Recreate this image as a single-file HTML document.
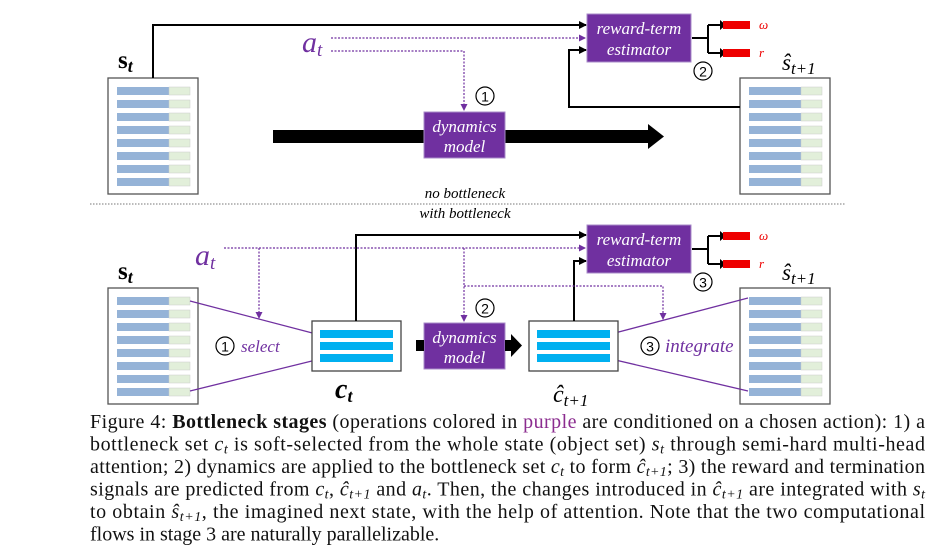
<!DOCTYPE html>
<html><head><meta charset="utf-8"><style>
html,body{margin:0;padding:0;background:#fff;}
svg{display:block;}
.cap{font-family:"Liberation Serif",serif;font-size:20px;fill:#111;}
.it{font-style:italic;}
.bw{font-family:"Liberation Serif",serif;font-style:italic;fill:#fff;font-size:17px;}
</style></head><body>
<svg width="950" height="552" viewBox="0 0 950 552" xmlns="http://www.w3.org/2000/svg">
<defs>
<marker id="ab" markerWidth="8" markerHeight="8" refX="7" refY="4" orient="auto" markerUnits="userSpaceOnUse"><path d="M0,0 L8,4 L0,8 z" fill="#000"/></marker>
<marker id="ap" markerWidth="7" markerHeight="7" refX="6" refY="3.5" orient="auto" markerUnits="userSpaceOnUse"><path d="M0,0 L7,3.5 L0,7 z" fill="#7030a0"/></marker>
<g id="state">
<rect x="0" y="0" width="90" height="116" fill="#fff" stroke="#555" stroke-width="1.3"/>
<g id="row"><rect x="9" y="9" width="52" height="8" fill="#95b3d7"/><rect x="61" y="9" width="21" height="8" fill="#e2efda" stroke="#ccc" stroke-width="0.5"/></g>
<use href="#row" y="13"/><use href="#row" y="26"/><use href="#row" y="39"/><use href="#row" y="52"/><use href="#row" y="65"/><use href="#row" y="78"/><use href="#row" y="91"/>
</g>
<g id="bset">
<rect x="0" y="0" width="89" height="50" fill="#fff" stroke="#444" stroke-width="1.3"/>
<rect x="8" y="9" width="73" height="8" fill="#00b0f0"/><rect x="8" y="21" width="73" height="8" fill="#00b0f0"/><rect x="8" y="33" width="73" height="8" fill="#00b0f0"/>
</g>
<g id="rew">
<rect x="0" y="0" width="104" height="48" fill="#7030a0" stroke="#a98bc9"/>
<text x="52" y="20" text-anchor="middle" class="bw">reward-term</text>
<text x="52" y="41" text-anchor="middle" class="bw">estimator</text>
<path d="M105,24 H121 M121,11 V39 M121,11 H134 M121,39 H134" stroke="#000" stroke-width="2" fill="none"/>
<path d="M133,6 L139,11 L133,16 z M133,34 L139,39 L133,44 z" fill="#000"/>
<rect x="136" y="7" width="27" height="8" fill="#e00"/><rect x="136" y="35" width="27" height="8" fill="#e00"/>
<text x="172" y="15" font-family="Liberation Serif,serif" font-style="italic" font-size="13" fill="#e00">ω</text>
<text x="172" y="43" font-family="Liberation Serif,serif" font-style="italic" font-size="13" fill="#e00">r</text>
</g>
<g id="dyn">
<rect x="0" y="0" width="81" height="46" fill="#7030a0" stroke="#a98bc9"/>
<text x="40.5" y="20" text-anchor="middle" class="bw" font-size="16">dynamics</text>
<text x="40.5" y="40" text-anchor="middle" class="bw" font-size="16">model</text>
</g>
</defs>

<!-- TOP -->
<use href="#state" x="108" y="78"/>
<use href="#state" x="740" y="78"/>
<text x="118" y="68" font-family="Liberation Serif,serif" font-weight="bold" font-size="25">s<tspan font-size="18" font-style="italic" dy="4">t</tspan></text>
<text x="782" y="70" font-family="Liberation Serif,serif" font-style="italic" font-size="23">ŝ<tspan font-size="17" dy="4">t+1</tspan></text>
<path d="M153,78 V25 H586" stroke="#000" stroke-width="2" fill="none" marker-end="url(#ab)"/>
<path d="M740,107 H569 V50 H586" stroke="#000" stroke-width="2" fill="none" marker-end="url(#ab)"/>
<rect x="273" y="130" width="380" height="13" fill="#000"/>
<path d="M648,124 L664,136.5 L648,149 z" fill="#000"/>
<use href="#dyn" x="424" y="112"/>
<text x="302" y="52" font-family="Liberation Serif,serif" font-style="italic" font-size="30" fill="#7030a0">a<tspan font-size="19" dy="4">t</tspan></text>
<path d="M331,38 H585" stroke="#7030a0" stroke-width="1.2" stroke-dasharray="2,1.5" fill="none" marker-end="url(#ap)"/>
<path d="M331,51 H464 V110" stroke="#7030a0" stroke-width="1.2" stroke-dasharray="2,1.5" fill="none" marker-end="url(#ap)"/>
<use href="#rew" x="587" y="14"/>
<circle cx="485" cy="96" r="9" fill="none" stroke="#000" stroke-width="1.2"/><text x="485" y="101.5" text-anchor="middle" font-family="Liberation Sans,sans-serif" font-size="14">1</text>
<circle cx="703" cy="71" r="9" fill="none" stroke="#000" stroke-width="1.2"/><text x="703" y="76.5" text-anchor="middle" font-family="Liberation Sans,sans-serif" font-size="14">2</text>

<text x="465" y="198" text-anchor="middle" font-family="Liberation Serif,serif" font-style="italic" font-size="15">no bottleneck</text>
<line x1="90" y1="204" x2="845" y2="204" stroke="#777" stroke-width="1" stroke-dasharray="1.5,1.5"/>
<text x="465" y="218" text-anchor="middle" font-family="Liberation Serif,serif" font-style="italic" font-size="15">with bottleneck</text>

<!-- BOTTOM -->
<use href="#state" x="108" y="288"/>
<use href="#state" x="740" y="288"/>
<text x="118" y="279" font-family="Liberation Serif,serif" font-weight="bold" font-size="25">s<tspan font-size="18" font-style="italic" dy="4">t</tspan></text>
<text x="782" y="280" font-family="Liberation Serif,serif" font-style="italic" font-size="23">ŝ<tspan font-size="17" dy="4">t+1</tspan></text>
<path d="M190,301 L320,335 M190,391 L320,359 M611,334 L748,298 M611,359 L748,391" stroke="#7030a0" stroke-width="1.3" fill="none"/>
<use href="#bset" x="312" y="321"/>
<use href="#bset" x="529" y="321"/>
<text x="335" y="398" font-family="Liberation Serif,serif" font-weight="bold" font-style="italic" font-size="28">c<tspan font-size="18" dy="4">t</tspan></text>
<text x="553" y="402" font-family="Liberation Serif,serif" font-style="italic" font-size="24">ĉ<tspan font-size="17" dy="4">t+1</tspan></text>
<path d="M356,321 V235 H586" stroke="#000" stroke-width="2" fill="none" marker-end="url(#ab)"/>
<path d="M574,321 V261 H586" stroke="#000" stroke-width="2" fill="none" marker-end="url(#ab)"/>
<use href="#dyn" x="424" y="323"/>
<rect x="416" y="340" width="8" height="11" fill="#000"/>
<rect x="505" y="340" width="8" height="11" fill="#000"/>
<path d="M511,334 L522,345.5 L511,357 z" fill="#000"/>
<text x="195" y="265" font-family="Liberation Serif,serif" font-style="italic" font-size="30" fill="#7030a0">a<tspan font-size="19" dy="4">t</tspan></text>
<path d="M224,248 H585" stroke="#7030a0" stroke-width="1.2" stroke-dasharray="2,1.5" fill="none" marker-end="url(#ap)"/>
<path d="M259,248 V318" stroke="#7030a0" stroke-width="1.2" stroke-dasharray="2,1.5" fill="none" marker-end="url(#ap)"/>
<path d="M464,248 V321" stroke="#7030a0" stroke-width="1.2" stroke-dasharray="2,1.5" fill="none" marker-end="url(#ap)"/>
<path d="M464,286 H663 V319" stroke="#7030a0" stroke-width="1.2" stroke-dasharray="2,1.5" fill="none" marker-end="url(#ap)"/>
<use href="#rew" x="587" y="225"/>
<circle cx="485" cy="308" r="9" fill="none" stroke="#000" stroke-width="1.2"/><text x="485" y="313.5" text-anchor="middle" font-family="Liberation Sans,sans-serif" font-size="14">2</text>
<circle cx="703" cy="282" r="9" fill="none" stroke="#000" stroke-width="1.2"/><text x="703" y="287.5" text-anchor="middle" font-family="Liberation Sans,sans-serif" font-size="14">3</text>
<circle cx="225" cy="346" r="9" fill="none" stroke="#000" stroke-width="1.2"/><text x="225" y="351.5" text-anchor="middle" font-family="Liberation Sans,sans-serif" font-size="14">1</text>
<text x="241" y="352" font-family="Liberation Serif,serif" font-style="italic" font-size="17" fill="#7030a0">select</text>
<circle cx="650" cy="346" r="9" fill="none" stroke="#000" stroke-width="1.2"/><text x="650" y="351.5" text-anchor="middle" font-family="Liberation Sans,sans-serif" font-size="14">3</text>
<text x="665" y="352" font-family="Liberation Serif,serif" font-style="italic" font-size="19" fill="#7030a0">integrate</text>

<!-- CAPTION -->
<text class="cap" x="90" y="428" textLength="835" lengthAdjust="spacing">Figure 4: <tspan font-weight="bold">Bottleneck stages</tspan> (operations colored in <tspan fill="#8b2c8f">purple</tspan> are conditioned on a chosen action): 1) a</text>
<text class="cap" x="90" y="450.5" textLength="835" lengthAdjust="spacing">bottleneck set <tspan class="it">c</tspan><tspan class="it" font-size="14" dy="3">t</tspan><tspan dy="-3"> is soft-selected from the whole state (object set) </tspan><tspan class="it">s</tspan><tspan class="it" font-size="14" dy="3">t</tspan><tspan dy="-3"> through semi-hard multi-head</tspan></text>
<text class="cap" x="90" y="473" textLength="835" lengthAdjust="spacing">attention; 2) dynamics are applied to the bottleneck set <tspan class="it">c</tspan><tspan class="it" font-size="14" dy="3">t</tspan><tspan dy="-3"> to form </tspan><tspan class="it">ĉ</tspan><tspan class="it" font-size="14" dy="3">t+1</tspan><tspan dy="-3">; 3) the reward and termination</tspan></text>
<text class="cap" x="90" y="495.5" textLength="835" lengthAdjust="spacing">signals are predicted from <tspan class="it">c</tspan><tspan class="it" font-size="14" dy="3">t</tspan><tspan dy="-3">, </tspan><tspan class="it">ĉ</tspan><tspan class="it" font-size="14" dy="3">t+1</tspan><tspan dy="-3"> and </tspan><tspan class="it">a</tspan><tspan class="it" font-size="14" dy="3">t</tspan><tspan dy="-3">. Then, the changes introduced in </tspan><tspan class="it">ĉ</tspan><tspan class="it" font-size="14" dy="3">t+1</tspan><tspan dy="-3"> are integrated with </tspan><tspan class="it">s</tspan><tspan class="it" font-size="14" dy="3">t</tspan></text>
<text class="cap" x="90" y="518" textLength="835" lengthAdjust="spacing">to obtain <tspan class="it">ŝ</tspan><tspan class="it" font-size="14" dy="3">t+1</tspan><tspan dy="-3">, the imagined next state, with the help of attention. Note that the two computational</tspan></text>
<text class="cap" x="90" y="540.5">flows in stage 3 are naturally parallelizable.</text>
</svg>
</body></html>
